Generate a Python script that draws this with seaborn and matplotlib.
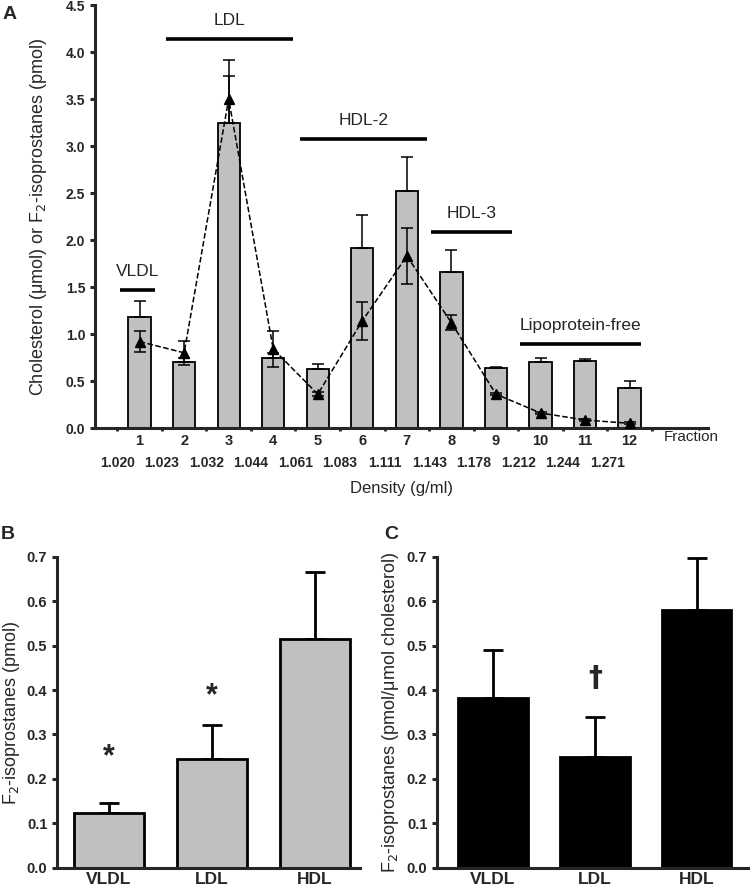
import numpy as np
import pandas as pd
import seaborn as sns
import matplotlib
matplotlib.use('Agg')
import matplotlib.pyplot as plt
import matplotlib.transforms as mtransforms

# Panel A data: cholesterol (bars) and F2-isoprostanes (triangles) per fraction
fractions = np.arange(1, 13)
densities = ['1.020', '1.023', '1.032', '1.044', '1.061', '1.083',
             '1.111', '1.143', '1.178', '1.212', '1.244', '1.271']
chol = [1.18, 0.70, 3.24, 0.75, 0.63, 1.91, 2.52, 1.66, 0.64, 0.70, 0.71, 0.43]
chol_err = [0.17, 0.05, 0.68, 0.05, 0.05, 0.36, 0.36, 0.23, 0.01, 0.04, 0.02, 0.07]
iso = [0.92, 0.80, 3.50, 0.84, 0.36, 1.14, 1.83, 1.12, 0.36, 0.16, 0.085, 0.05]
iso_err = [0.11, 0.13, 0.25, 0.19, 0.02, 0.20, 0.30, 0.08, 0.01, 0.01, 0.01, 0.01]

# lipoprotein class brackets above panel A: label, start, end, height
groups = ['VLDL', 'LDL', 'HDL-2', 'HDL-3', 'Lipoprotein-free']
group_x0 = [0.55, 1.6, 4.6, 7.55, 9.55]
group_x1 = [1.35, 4.45, 7.45, 9.35, 12.25]
group_y = [1.47, 4.14, 3.07, 2.08, 0.89]

# Panels B and C
classes = ['VLDL', 'LDL', 'HDL']
iso_pmol = [0.122, 0.245, 0.516]
iso_pmol_err = [0.024, 0.076, 0.150]
iso_norm = [0.383, 0.250, 0.580]
iso_norm_err = [0.107, 0.089, 0.118]

sns.set_style('ticks')
plt.rcParams['font.family'] = ['Liberation Sans', 'DejaVu Sans']
plt.rcParams['axes.linewidth'] = 2.2

bar_grey = '#c0c0c0'
fig = plt.figure(figsize=(7.5, 8.93), dpi=100)

# ---------------- Panel A ----------------
axA = fig.add_axes([0.1267, 0.5207, 0.8173, 0.4737])
sns.barplot(x=fractions, y=chol, native_scale=True, width=0.5, color=bar_grey,
            saturation=1, edgecolor='black', linewidth=1.3, errorbar=None, ax=axA)
axA.errorbar(fractions, chol, yerr=[np.zeros(12), chol_err], fmt='none',
             ecolor='black', elinewidth=1.1, capsize=4, capthick=1.1, zorder=3)
axA.plot(fractions, iso, linestyle='--', color='black', linewidth=1.1, zorder=4)
axA.errorbar(fractions, iso, yerr=iso_err, fmt='none', ecolor='black',
             elinewidth=1.1, capsize=4, capthick=1.1, zorder=4)
axA.plot(fractions, iso, linestyle='none', marker='^', markersize=7,
         color='black', zorder=5)

axA.set_xlim(0.0, 13.76)
axA.set_ylim(0, 4.5)
axA.set_yticks(np.arange(0, 4.51, 0.5))
axA.set_yticklabels([f'{v:.1f}' for v in np.arange(0, 4.51, 0.5)],
                    fontweight='bold', fontsize=10)
axA.set_xticks(fractions)
axA.set_xticklabels([str(f) for f in fractions], fontweight='bold', fontsize=10.5)
axA.set_xticks(np.arange(0.5, 13.0, 1.0), minor=True)
axA.set_xticklabels(densities + [''], minor=True, fontweight='bold', fontsize=10)
axA.tick_params(axis='x', which='major', length=0, pad=4.5)
axA.tick_params(axis='x', which='minor', length=2.5, width=2, pad=18)
axA.tick_params(axis='y', length=3.5, width=2.2)
sns.despine(ax=axA)
axA.set_xlabel('')
axA.set_ylabel('Cholesterol (μmol) or F$_2$-isoprostanes (pmol)', fontsize=13)
axA.yaxis.set_label_coords(-0.075, 0.5)

for name, x0, x1, y in zip(groups, group_x0, group_x1, group_y):
    axA.plot([x0, x1], [y, y], color='black', linewidth=2.6, clip_on=False,
             solid_capstyle='butt')
    axA.text((x0 + x1) / 2, y + 0.12, name, ha='center', va='bottom', fontsize=12.5)

trans = mtransforms.blended_transform_factory(axA.transData, axA.transAxes)
axA.text(13.38, -0.022, 'Fraction', transform=trans, ha='center', va='center',
         fontsize=11)
axA.text(0.5, -0.142, 'Density (g/ml)', transform=axA.transAxes, ha='center',
         va='center', fontsize=12)

# ---------------- Panel B ----------------
axB = fig.add_axes([0.076, 0.0285, 0.404, 0.3478])
dfB = pd.DataFrame({'cls': classes, 'val': iso_pmol})
sns.barplot(data=dfB, x='cls', y='val', color=bar_grey, saturation=1, width=0.68,
            edgecolor='black', linewidth=2, errorbar=None, ax=axB)
axB.errorbar(range(3), iso_pmol, yerr=[np.zeros(3), iso_pmol_err], fmt='none',
             ecolor='black', elinewidth=2, capsize=7, capthick=2, zorder=0)
axB.text(0, 0.248, '*', ha='center', va='center', fontsize=22, fontweight='bold')
axB.text(1, 0.385, '*', ha='center', va='center', fontsize=22, fontweight='bold')

# ---------------- Panel C ----------------
axC = fig.add_axes([0.5827, 0.0285, 0.417, 0.3478])
dfC = pd.DataFrame({'cls': classes, 'val': iso_norm})
sns.barplot(data=dfC, x='cls', y='val', color='black', saturation=1, width=0.68,
            edgecolor='black', linewidth=2, errorbar=None, ax=axC)
axC.errorbar(range(3), iso_norm, yerr=[np.zeros(3), iso_norm_err], fmt='none',
             ecolor='black', elinewidth=2, capsize=7, capthick=2, zorder=0)
axC.text(1, 0.427, '†', ha='center', va='center', fontsize=20, fontweight='bold',
         family=['DejaVu Sans'])

for ax, xlim in [(axB, (-0.505, 2.44)), (axC, (-0.55, 2.52))]:
    ax.set_xlim(*xlim)
    ax.set_ylim(0, 0.7)
    ax.set_yticks(np.arange(0, 0.71, 0.1))
    ax.set_yticklabels([f'{v:.1f}' for v in np.arange(0, 0.71, 0.1)],
                       fontweight='bold', fontsize=10.5)
    ax.set_xticks(range(3))
    ax.set_xticklabels(classes, fontweight='bold', fontsize=12.5)
    ax.tick_params(axis='x', length=0, pad=3)
    ax.tick_params(axis='y', length=3.5, width=2.2)
    ax.set_xlabel('')
    sns.despine(ax=ax)

axB.set_ylabel('F$_2$-isoprostanes (pmol)', fontsize=13)
axB.yaxis.set_label_coords(-0.116, 0.5)
axC.set_ylabel('F$_2$-isoprostanes (pmol/μmol cholesterol)', fontsize=13)
axC.yaxis.set_label_coords(-0.115, 0.5)

# panel letters
fig.text(0.003, 0.993, 'A', fontsize=14, fontweight='bold', va='top')
fig.text(0.001, 0.411, 'B', fontsize=14, fontweight='bold', va='top')
fig.text(0.512, 0.411, 'C', fontsize=14, fontweight='bold', va='top')

fig.savefig('out.png', dpi=100)
